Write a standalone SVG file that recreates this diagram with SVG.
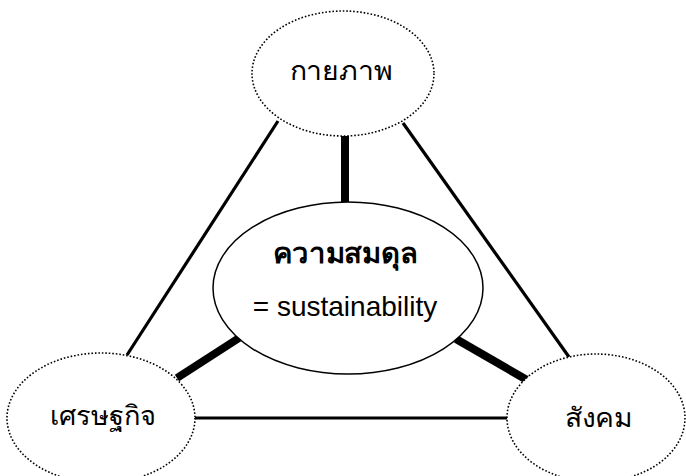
<svg xmlns="http://www.w3.org/2000/svg" width="686" height="476" viewBox="0 0 686 476">
<style>
.outer{fill:#fff;stroke:#000;stroke-width:1.6;stroke-dasharray:1.6 1.9}
.center{fill:#fff;stroke:#000;stroke-width:1.5}
.thin{stroke:#000;stroke-width:3.2;fill:none}
.thick{stroke:#000;stroke-width:8;fill:none}
text{font-family:"Noto Sans","DejaVu Sans","Liberation Sans",sans-serif;fill:#000;text-anchor:middle}
.lbl{font-size:27px}
.bold{font-size:28px;font-weight:bold}
.en{font-family:"Liberation Sans",Arial,sans-serif;font-size:28px}
</style>
<rect width="686" height="476" fill="#fff"/>
<g id="connectors">
<line class="thin" x1="278" y1="121" x2="127" y2="355"/>
<line class="thin" x1="403" y1="123" x2="569" y2="357"/>
<line class="thin" x1="195" y1="418" x2="507" y2="418"/>
<line class="thick" x1="345" y1="136" x2="345" y2="203"/>
<line class="thick" x1="177" y1="378" x2="239" y2="338"/>
<line class="thick" x1="456" y1="339" x2="527" y2="380"/>
</g>
<g id="center">
<ellipse class="center" cx="348" cy="288" rx="135" ry="86"/>
<text class="bold" x="345" y="263" textLength="145" lengthAdjust="spacingAndGlyphs">ความสมดุล</text>
<text class="en" x="345" y="316">= sustainability</text>
</g>
<g id="physical">
<ellipse class="outer" cx="343" cy="73.5" rx="91" ry="62.5"/>
<text class="lbl" x="341" y="80" textLength="103" lengthAdjust="spacingAndGlyphs">กายภาพ</text>
</g>
<g id="economic">
<ellipse class="outer" cx="101" cy="418" rx="94" ry="65"/>
<text class="lbl" x="103" y="425" textLength="107" lengthAdjust="spacingAndGlyphs">เศรษฐกิจ</text>
</g>
<g id="social">
<ellipse class="outer" cx="596" cy="418" rx="89" ry="64"/>
<text class="lbl" x="599" y="427" textLength="68" lengthAdjust="spacingAndGlyphs">สังคม</text>
</g>
</svg>
